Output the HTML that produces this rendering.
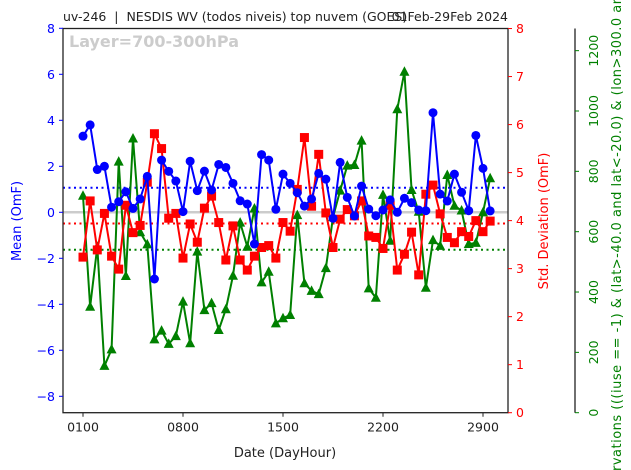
<!DOCTYPE html>
<html><head><meta charset="utf-8"><style>
html,body{margin:0;padding:0;background:#fff;width:631px;height:470px;overflow:hidden;}
svg{display:block;font-family:"DejaVu Sans","Liberation Sans",sans-serif;overflow:hidden;}
</style></head><body>
<svg id="chart" width="631" height="470" viewBox="0 0 631 470">
<text x="63" y="21" font-size="12.5" fill="#222" style="white-space:pre" xml:space="preserve">uv-246  |  NESDIS WV (todos niveis) top nuvem (GOES)</text>
<text x="508" y="21" font-size="12.5" fill="#222" text-anchor="end">01Feb-29Feb 2024</text>
<g id="plot"></g>
<text font-size="13" fill="green" textLength="475" lengthAdjust="spacing" transform="translate(621,471) rotate(-90)">rvations (((iuse == -1) &amp; (lat&gt;-40.0 and lat&lt;-20.0) &amp; (lon&gt;300.0 an</text>
</svg>
<script>
const categories = ["0100","0800","1500","2200","2900"];
const meanVals = [3.31,3.80,1.86,2.0,0.22,0.46,0.89,0.17,0.58,1.56,-2.9,2.27,1.78,1.36,0.03,2.22,0.94,1.79,0.97,2.08,
1.95,1.26,0.50,0.36,-1.38,2.51,2.27,0.13,1.66,1.26,0.85,0.27,0.58,1.69,1.44,-0.26,2.17,0.65,-0.16,1.14,
0.14,-0.15,0.10,0.54,0.0,0.61,0.42,0.1,0.07,4.33,0.79,0.49,1.66,0.87,0.07,3.34,1.91,0.06];
const stdVals = [3.24,4.41,3.39,4.15,3.26,2.99,4.32,3.75,3.90,4.80,5.81,5.50,4.05,4.15,3.22,3.93,3.55,4.26,4.51,3.96,
3.18,3.89,3.18,2.97,3.26,3.44,3.48,3.22,3.96,3.78,4.65,5.73,4.30,5.38,4.16,3.44,4.03,4.23,4.10,4.41,
3.68,3.65,3.42,4.32,2.97,3.30,3.76,2.87,4.55,4.74,4.14,3.65,3.54,3.77,3.67,4.0,3.77,3.99];
const countVals = [719,351,550,155,210,832,453,909,598,558,243,272,228,254,368,230,534,340,363,274,
343,454,630,550,677,432,467,296,313,324,655,429,404,393,479,648,736,819,821,902,
412,381,722,570,1006,1130,738,666,414,572,553,788,686,670,559,563,664,777];
const meanAvg = 1.07, stdAvg = 3.94, countAvg = 540;
const meanTicks = [8,6,4,2,0,-2,-4,-6,-8];
const stdTicks = [0,1,2,3,4,5,6,7,8];
const countTicks = [0,200,400,600,800,1000,1200];

const NS="http://www.w3.org/2000/svg";
const L=63,R=508,T=28.5,B=412.7;
const xS=i=>83+i*100/14;
const yM=v=>212.3-23.0*v;
const yS=v=>B-48.02*v;
const yC=v=>B-0.3017*v;
const g=document.getElementById('plot');
function mk(tag,attrs,parent){const e=document.createElementNS(NS,tag);for(const k in attrs)e.setAttribute(k,attrs[k]);(parent||g).appendChild(e);return e;}
function txt(s,attrs){const e=mk('text',attrs);e.textContent=s;return e;}

let e=mk('line',{x1:L,x2:R,y1:yM(0),y2:yM(0),stroke:'#cccccc','stroke-width':2.5});


e=mk('line',{x1:L,x2:R,y1:yM(meanAvg),y2:yM(meanAvg),stroke:'blue','stroke-width':2,'stroke-dasharray':'2,3.5'});


e=mk('line',{x1:L,x2:R,y1:yS(stdAvg),y2:yS(stdAvg),stroke:'red','stroke-width':2,'stroke-dasharray':'2,3.5'});


e=mk('line',{x1:L,x2:R,y1:yC(countAvg),y2:yC(countAvg),stroke:'green','stroke-width':2,'stroke-dasharray':'2,3.5'});



e=txt('Layer=700-300hPa',{x:69,y:47,'font-size':16,'font-weight':'bold',fill:'#cccccc'});



function series(vals,yf,color,shape,name){
  const pts=vals.map((v,i)=>xS(i)+','+yf(v)).join(' ');
  let pl=mk('polyline',{points:pts,fill:'none',stroke:color,'stroke-width':2});
  
  
  vals.forEach((v,i)=>{
    const x=xS(i),y=yf(v);let m;
    if(shape==='circle')m=mk('circle',{cx:x,cy:y,r:4.5,fill:color});
    else if(shape==='square')m=mk('rect',{x:x-4.5,y:y-4.5,width:9,height:9,fill:color});
    else m=mk('polygon',{points:`${x},${y-5.5} ${x-5},${y+4} ${x+5},${y+4}`,fill:color});
    
    
  });
}
series(countVals,yC,'green','tri','count');
series(stdVals,yS,'red','square','std');
series(meanVals,yM,'blue','circle','mean');

e=mk('rect',{x:L,y:T,width:R-L,height:B-T,fill:'none',stroke:'#222','stroke-width':1.3});



categories.forEach((c,k)=>{const x=xS(k*14);
  mk('line',{x1:x,x2:x,y1:B,y2:B+4,stroke:'#222'});
  e=txt(c,{x:x,y:B+19,'font-size':12.5,'text-anchor':'middle',fill:'#222'});
  
  
});
e=txt('Date (DayHour)',{x:285,y:457,'font-size':13,'text-anchor':'middle',fill:'#222'});



meanTicks.forEach(v=>{const y=yM(v);
  mk('line',{x1:L-4,x2:L,y1:y,y2:y,stroke:'blue'});
  e=txt(String(v).replace('-','\u2212'),{x:L-8,y:y+4.5,'font-size':12.5,'text-anchor':'end',fill:'blue'});
  
  
});
e=txt('Mean (OmF)',{x:0,y:0,'font-size':13,'text-anchor':'middle',fill:'blue',transform:'translate(21,221) rotate(-90)'});



stdTicks.forEach(v=>{const y=yS(v);
  mk('line',{x1:R,x2:R+4,y1:y,y2:y,stroke:'red'});
  e=txt(String(v),{x:R+8,y:y+4.5,'font-size':12.5,fill:'red'});
  
  
});
e=txt('Std. Deviation (OmF)',{x:0,y:0,'font-size':13,'text-anchor':'middle',fill:'red',transform:'translate(548,221) rotate(-90)'});



mk('line',{x1:575,x2:575,y1:T,y2:B,stroke:'#222','stroke-width':1.3});
countTicks.forEach(v=>{const y=yC(v);
  mk('line',{x1:575,x2:579,y1:y,y2:y,stroke:'green'});
  e=txt(String(v),{x:0,y:0,'font-size':12.5,'text-anchor':'middle',fill:'green',transform:`translate(598,${y}) rotate(-90)`});
  
  
});
</script>
</body></html>
